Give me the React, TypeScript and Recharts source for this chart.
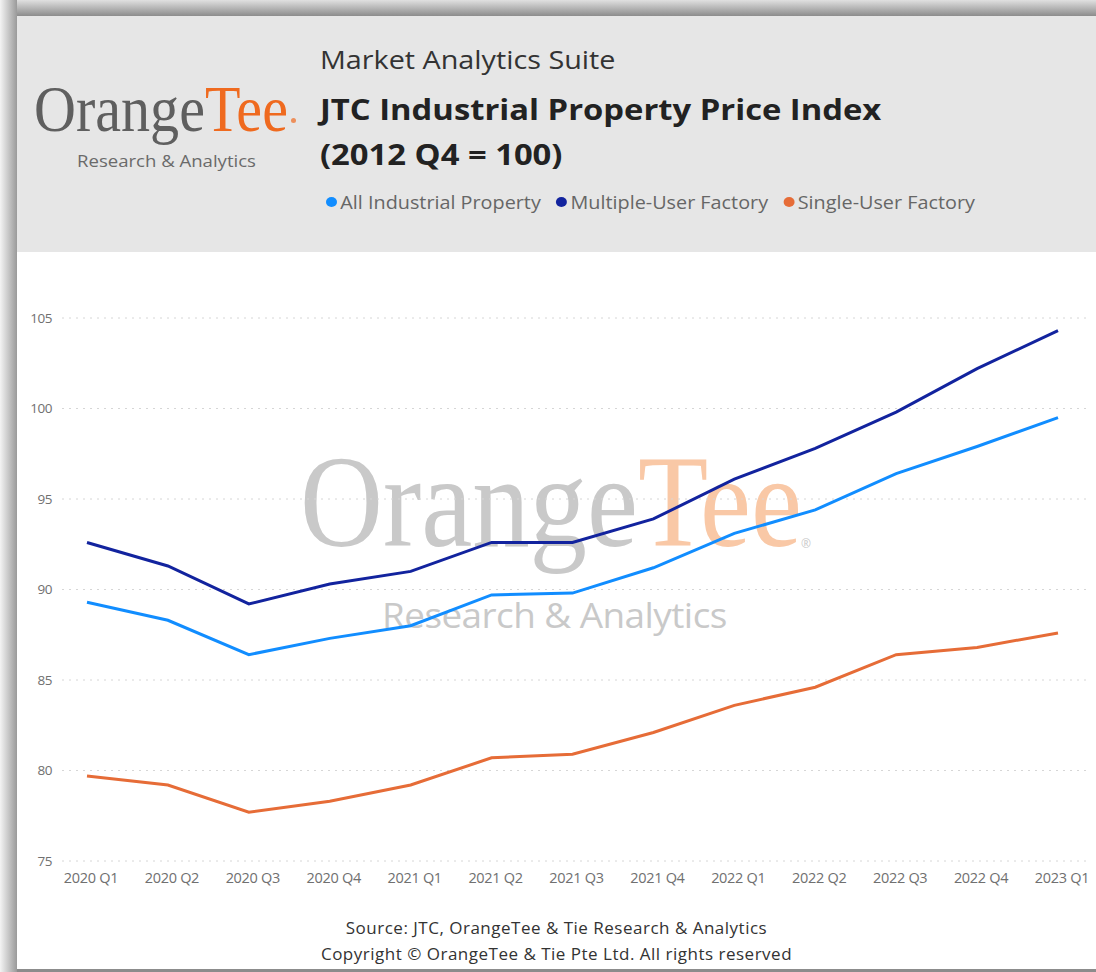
import { CartesianGrid, Line, LineChart, XAxis, YAxis } from "recharts";

const quarters = [
  "2020 Q1", "2020 Q2", "2020 Q3", "2020 Q4",
  "2021 Q1", "2021 Q2", "2021 Q3", "2021 Q4",
  "2022 Q1", "2022 Q2", "2022 Q3", "2022 Q4",
  "2023 Q1",
];
const allIndustrial = [89.3, 88.3, 86.4, 87.3, 88.0, 89.7, 89.8, 91.2, 93.1, 94.4, 96.4, 97.9, 99.5];
const multipleUser = [92.6, 91.3, 89.2, 90.3, 91.0, 92.6, 92.6, 93.9, 96.1, 97.8, 99.8, 102.2, 104.3];
const singleUser = [79.7, 79.2, 77.7, 78.3, 79.2, 80.7, 80.9, 82.1, 83.6, 84.6, 86.4, 86.8, 87.6];
const yTicks = [75, 80, 85, 90, 95, 100, 105];

const series = [
  { key: "all", name: "All Industrial Property", color: "#118dff" },
  { key: "multi", name: "Multiple-User Factory", color: "#12239e" },
  { key: "single", name: "Single-User Factory", color: "#e66c37" },
];

const data = quarters.map((q, i) => ({
  quarter: q,
  all: allIndustrial[i],
  multi: multipleUser[i],
  single: singleUser[i],
}));

const SANS = "'Open Sans', 'Noto Sans', sans-serif";
const SERIF = "'Liberation Serif', 'DejaVu Serif', serif";

// text block that is stretched sideways a little, like the original render
function Stretch({ left, top, sx, style, children }: { left: number; top: number; sx: number; style: React.CSSProperties; children: React.ReactNode }) {
  return (
    <div style={{ position: "absolute", left, top, transform: `scaleX(${sx})`, transformOrigin: "left top", whiteSpace: "nowrap", ...style }}>
      {children}
    </div>
  );
}

export default function App() {
  return (
    <div style={{ position: "absolute", left: 0, top: 0, width: 1096, height: 972, background: "#fff", overflow: "hidden" }}>
      {/* frame shadow */}
      <div style={{ position: "absolute", left: 0, top: 0, width: 1096, height: 16, background: "linear-gradient(to bottom, #e0e0e0, #8c8c8c)" }} />
      <div style={{ position: "absolute", left: 0, top: 0, width: 17, height: 972, background: "linear-gradient(to right, #f4f4f4, #9a9a9a)" }} />
      <div style={{ position: "absolute", left: 17, top: 969, width: 1079, height: 3, background: "#8c8c8c" }} />

      {/* header */}
      <div style={{ position: "absolute", left: 17, top: 16, width: 1079, height: 236, background: "#e6e6e6" }} />

      {/* logo */}
      <Stretch left={34} top={76} sx={0.88} style={{ fontFamily: SERIF, fontSize: 66, lineHeight: 1, color: "#5f5f5f" }}>
        Orange<span style={{ color: "#ef6a1f" }}>Tee</span>
      </Stretch>
      <div style={{ position: "absolute", left: 291, top: 118, width: 5, height: 5, borderRadius: 3, background: "#ef6a1f", opacity: 0.7 }} />
      <Stretch left={77} top={150} sx={1.16} style={{ fontFamily: SANS, fontSize: 16, color: "#6a6a6a" }}>
        Research &amp; Analytics
      </Stretch>

      {/* titles */}
      <Stretch left={320} top={42} sx={1.15} style={{ fontFamily: SANS, fontSize: 25, color: "#333" }}>
        Market Analytics Suite
      </Stretch>
      <Stretch left={320} top={86} sx={1.13} style={{ fontFamily: SANS, fontSize: 29, fontWeight: 700, color: "#222", lineHeight: "45px" }}>
        JTC Industrial Property Price Index
        <br />
        (2012 Q4 = 100)
      </Stretch>

      {/* legend */}
      <Stretch left={326} top={190} sx={1.1} style={{ display: "flex", fontFamily: SANS, fontSize: 18, color: "#666" }}>
        {series.map((s) => (
          <div key={s.key} style={{ display: "flex", alignItems: "center", marginRight: 14 }}>
            <span style={{ display: "inline-block", width: 10, height: 10, borderRadius: 5, background: s.color, marginRight: 3 }} />
            {s.name}
          </div>
        ))}
      </Stretch>

      {/* watermark */}
      <Stretch left={300} top={436} sx={0.87} style={{ fontFamily: SERIF, fontSize: 132, lineHeight: 1, color: "#c9c9c9" }}>
        Orange<span style={{ color: "#f9c8a6" }}>Tee</span>
      </Stretch>
      <div style={{ position: "absolute", left: 801, top: 535, fontFamily: SANS, fontSize: 12, color: "#c9c9c9" }}>®</div>
      <Stretch left={382} top={592} sx={1.085} style={{ fontFamily: SANS, fontSize: 34, color: "#c9c9c9", letterSpacing: -0.5 }}>
        Research &amp; Analytics
      </Stretch>

      {/* chart */}
      <div style={{ position: "absolute", left: 0, top: 290 }}>
        <LineChart width={1096} height={620} data={data} margin={{ top: 28, right: 6, bottom: 19, left: 0 }}>
          <CartesianGrid vertical={false} stroke="#d6d6d6" strokeDasharray="2 5" />
          <XAxis
            dataKey="quarter"
            axisLine={false}
            tickLine={false}
            tickSize={0}
            tickMargin={12}
            height={30}
            interval={0}
            padding={{ left: 25, right: 32 }}
            tick={{ fontSize: 14.5, fill: "#707070", fontFamily: SANS, letterSpacing: -0.3, dx: 4 }}
          />
          <YAxis
            domain={[75, 105]}
            ticks={yTicks}
            axisLine={false}
            tickLine={false}
            tickSize={0}
            tickMargin={10}
            width={62}
            tick={{ fontSize: 13.5, fill: "#707070", fontFamily: SANS, letterSpacing: -0.5 }}
          />
          {series.map((s) => (
            <Line
              key={s.key}
              type="linear"
              dataKey={s.key}
              name={s.name}
              stroke={s.color}
              strokeWidth={3}
              dot={false}
              isAnimationActive={false}
            />
          ))}
        </LineChart>
      </div>

      {/* footer */}
      <div style={{ position: "absolute", left: 17, width: 1079, top: 915, textAlign: "center", fontFamily: SANS, fontSize: 17, color: "#333", lineHeight: "26px", letterSpacing: 0.5, whiteSpace: "nowrap" }}>
        Source: JTC, OrangeTee &amp; Tie Research &amp; Analytics
        <br />
        Copyright © OrangeTee &amp; Tie Pte Ltd. All rights reserved
      </div>
    </div>
  );
}
